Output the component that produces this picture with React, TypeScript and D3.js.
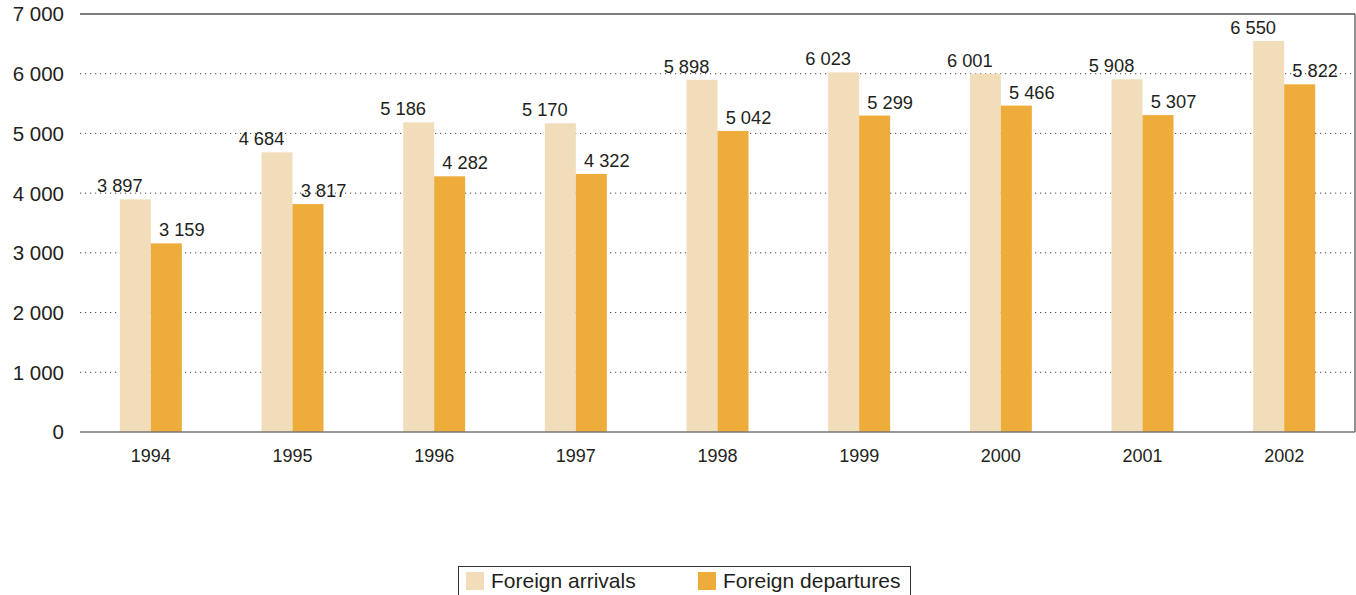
import React from "react";
import * as d3 from "d3";

const years = ["1994", "1995", "1996", "1997", "1998", "1999", "2000", "2001", "2002"];
const arrivals = [3897, 4684, 5186, 5170, 5898, 6023, 6001, 5908, 6550];
const departures = [3159, 3817, 4282, 4322, 5042, 5299, 5466, 5307, 5822];
const yTicks = [0, 1000, 2000, 3000, 4000, 5000, 6000, 7000];
const seriesNames = ["Foreign arrivals", "Foreign departures"];
const colors = ["#F2DDBA", "#EEAC3B"];

const W = 1356, H = 595;
const left = 80, right = 1355, top = 14, bottom = 432;
const font = "'Liberation Sans', Arial, sans-serif";
const fmt = (v: number) => d3.format(",")(v).replace(/,/g, " ");

export default function App() {
  const x = d3.scaleBand<string>().domain(years).range([left, right]);
  const y = d3.scaleLinear().domain([0, 7000]).range([bottom, top]);
  const barW = 31;
  return (
    <svg width={W} height={H} style={{ position: "absolute", left: 0, top: 0, background: "#fff" }} fontFamily={font}>
      {yTicks.filter(t => t > 0 && t < 7000).map(t => (
        <line key={t} x1={left} x2={right} y1={y(t)} y2={y(t)} stroke="#444" strokeWidth={1} strokeDasharray="1.2,3.8" />
      ))}
      {yTicks.map(t => (
        <text key={t} x={64} y={y(t)} dy="0.36em" textAnchor="end" fontSize={20.5} fill="#231f20">{fmt(t)}</text>
      ))}
      {years.map((yr, i) => {
        const cx = (x(yr) as number) + x.bandwidth() / 2;
        const a = arrivals[i], d = departures[i];
        return (
          <g key={yr}>
            <rect x={cx - barW} y={y(a)} width={barW} height={bottom - y(a)} fill={colors[0]} />
            <rect x={cx} y={y(d)} width={barW} height={bottom - y(d)} fill={colors[1]} />
            <text x={cx - barW} y={y(a) - 7} textAnchor="middle" fontSize={18.3} fill="#231f20">{fmt(a)}</text>
            <text x={cx + barW} y={y(d) - 7} textAnchor="middle" fontSize={18.3} fill="#231f20">{fmt(d)}</text>
            <text x={cx} y={462} textAnchor="middle" fontSize={18} fill="#231f20">{yr}</text>
          </g>
        );
      })}
      <line x1={left} x2={right} y1={top} y2={top} stroke="#555" strokeWidth={1.3} />
      <line x1={right} x2={right} y1={top} y2={bottom} stroke="#555" strokeWidth={1.3} />
      <line x1={left} x2={right} y1={bottom} y2={bottom} stroke="#777" strokeWidth={1.5} />
      <rect x={458.5} y={566.5} width={452} height={32} fill="none" stroke="#333" strokeWidth={1} />
      {seriesNames.map((n, i) => {
        const lx = i === 0 ? 466 : 698;
        return (
          <g key={n}>
            <rect x={lx} y={572} width={18} height={18} fill={colors[i]} />
            <text x={lx + 25} y={588} fontSize={21} fill="#231f20">{n}</text>
          </g>
        );
      })}
    </svg>
  );
}
